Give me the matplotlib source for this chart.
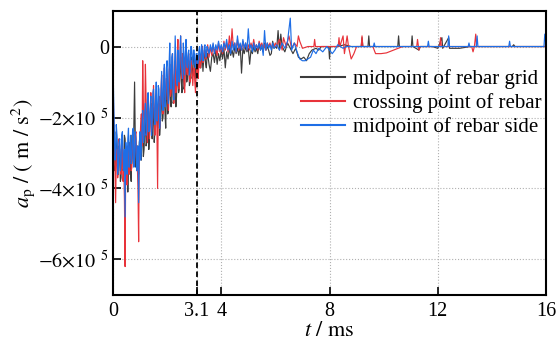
import numpy as np
import matplotlib
matplotlib.use("Agg")
import matplotlib.pyplot as plt

# accelerations in units of 1e5 m/s^2
# 0 - 3.5 ms sampled every 0.025 ms, 3.55 - 6 ms every 0.05 ms
t_fine = np.linspace(0, 3.5, 141)
t_coarse = np.linspace(3.55, 6.0, 50)

grid_mid = [
    -1.2, -2.2, -2.6, -3.5, -3.3, -2.4, -2.7, -3.1, -3.6, -2.8,
    -2.9, -3.8, -3.7, -2.7, -3.0, -3.5, -3.4, -2.5, -2.6, -3.2,
    -3.6, -3.0, -4.1, -3.3, -3.0, -2.7, -3.5, -3.8, -2.5, -2.9,
    -3.3, -2.2, -1.0, -2.6, -3.4, -3.0, -2.8, -3.3, -3.6, -2.7,
    -2.5, -3.0, -3.2, -2.2, -2.4, -3.1, -2.9, -2.3, -2.0, -2.8,
    -2.7, -1.9, -1.7, -2.9, -2.5, -1.9, -1.6, -2.2, -2.6, -1.7,
    -1.9, -2.7, -2.4, -1.4, -1.5, -2.1, -2.3, -1.8, -1.6, -2.5,
    -2.2, -1.5, -1.3, -2.1, -2.0, -1.2, -1.4, -1.9, -2.3, -1.3,
    -1.0, -1.9, -1.8, -1.1, -0.9, -1.5, -1.7, -0.7, -0.8, -1.6,
    -1.5, -0.9, -0.6, -1.7, -1.4, -0.8, -0.5, -1.3, -1.2, -0.6,
    -0.3, -1.0, -1.3, -0.7, -0.6, -1.2, -1.1, -0.5, -0.2, -1.0,
    -0.9, -0.5, -0.4, -1.1, -1.0, -0.6, -0.3, -0.9, -0.8, -0.2,
    -0.2, -0.7, -0.9, -0.4, -0.3, -0.8, -0.7, -0.3, -0.2, -0.6,
    -0.6, -0.2, -0.3, -0.7, -0.4, -0.2, -0.25, -0.5, -0.6, -0.3,
    -0.2,
    -0.5, -0.7, -0.3, -0.2, -0.45, -0.1, -0.5, -0.2, -0.4,
    -0.1, -0.35, -0.05, -0.6, -0.15, -0.35, -0.05, -0.25, -0.1, -0.3,
    0.0, -0.2, -0.05, -0.25, 0.05, -0.75, -0.05, -0.2, 0.0, -0.15,
    -0.05, -0.5, -0.1, -0.2, 0.0, -0.15, -0.05, -0.2, 0.05, -0.1,
    0.0, -0.15, 0.1, -0.1, 0.0, -0.1, -0.25, -0.2, 0.15, -0.05, 0.0,
]

crossing = [
    -0.3, -1.9, -2.8, -3.3, -4.4, -3.1, -2.9, -3.7, -3.5, -2.6,
    -2.8, -3.4, -3.6, -2.7, -3.0, -3.8, -3.4, -4.3, -6.2, -3.0,
    -3.3, -3.9, -2.8, -3.1, -3.6, -2.9, -2.7, -3.5, -3.4, -2.6,
    -2.6, -3.3, -3.2, -2.5, -2.4, -3.0, -3.3, -4.0, -5.5, -2.9,
    -2.7, -2.2, -1.9, -2.8, -0.4, -1.6, -2.5, -2.0, -0.5, -1.5,
    -2.2, -2.7, -1.4, -1.9, -2.6, -2.1, -1.3, -2.4, -2.2, -1.6,
    -1.1, -1.9, -2.5, -1.6, -1.5, -2.3, -4.0, -1.8, -1.4, -2.3,
    -2.0, -1.2, -0.8, -1.7, -1.9, -1.0, -0.6, -1.4, -1.5, -0.9,
    -1.0, -1.5, -1.8, -0.7, -0.5, -1.4, -1.3, -0.6, -0.2, -1.2,
    -1.6, -0.8, -0.4, -1.3, -1.1, -0.3, 0.2, -0.9, -1.2, -0.4,
    0.3, -0.6, -0.9, -0.2, -0.3, -1.0, -1.3, -0.5, -0.1, -0.7,
    -0.8, -0.3, -0.2, -0.9, -1.0, -0.5, -0.4, -0.8, -1.1, -0.7,
    -0.6, -1.0, -1.3, -0.8, -0.4, -0.7, -0.9, -0.5, -0.2, -0.6,
    -0.5, -0.2, 0.0, -0.45, -0.4, -0.1, -0.1, -0.3, -0.35, -0.1,
    0.05,
    -0.3, 0.0, -0.25, 0.05, -0.2, -0.05, -0.25, 0.1, -0.15,
    0.0, -0.2, 0.15, -0.1, 0.1, -0.15, 0.3, -0.1, 0.5, -0.05,
    0.1, -0.15, 0.2, -0.1, 0.05, -0.1, 0.15, -0.05, 0.1, -0.1,
    0.05, -0.1, 0.1, -0.05, 0.2, -0.05, 0.05, -0.1, 0.15, 0.0,
    0.1, -0.05, 0.05, -0.1, 0.1, 0.0, 0.1, -0.05, 0.05, 0.0, 0.1,
]

side_mid = [
    -0.3, -1.4, -2.3, -3.2, -3.0, -2.2, -2.5, -3.6, -3.4, -2.7,
    -2.6, -3.5, -3.3, -2.5, -2.4, -3.1, -3.5, -2.9, -4.8, -2.7,
    -3.0, -3.6, -2.6, -2.3, -3.4, -3.0, -2.5, -3.3, -3.2, -2.4,
    -2.3, -3.4, -3.1, -2.4, -2.6, -3.5, -3.2, -2.8, -4.4, -2.8,
    -2.4, -3.2, -2.9, -2.2, -1.8, -2.7, -2.6, -1.9, -1.6, -2.5,
    -2.4, -1.5, -1.3, -2.4, -2.3, -1.7, -1.4, -2.5, -2.1, -1.3,
    -1.2, -2.0, -2.2, -1.5, -1.0, -2.1, -1.9, -1.1, -1.2, -2.3,
    -2.0, -1.3, -0.7, -1.6, -1.8, -0.9, -0.5, -1.7, -1.4, -0.6,
    -0.4, -1.3, -1.6, -0.5, 0.1, -0.8, -1.2, -0.3, -0.2, -1.3,
    -1.5, -0.6, 0.3, -0.5, -0.9, -1.1, -0.1, -0.6, -1.0, -0.2,
    0.3, -0.4, -0.7, -0.9, 0.1, -0.3, -0.8, -0.2, 0.2, -0.5,
    -0.6, -0.2, -0.1, -0.8, -0.7, 0.0, 0.0, -0.4, -0.5, -0.1,
    -0.1, -0.5, -0.6, -0.2, -0.2, -0.5, -0.45, -0.1, 0.0, -0.4,
    -0.35, 0.05, -0.1, -0.4, -0.3, 0.0, 0.05, -0.3, -0.25, 0.0,
    -0.05,
    -0.2, 0.05, -0.15, 0.1, -0.2, 0.05, -0.1, 0.15, -0.1,
    0.05, -0.15, 0.1, -0.05, 0.2, -0.1, 0.05, -0.2, 0.15, -0.1,
    0.1, -0.15, 0.3, -0.05, 0.1, -0.1, 0.2, -0.05, 0.1, -0.1,
    0.5, -0.05, 0.05, -0.15, 0.1, -0.1, 0.05, -0.05, 0.1, -0.1,
    0.05, -0.25, 0.45, -0.1, 0.1, -0.05, 0.05, -0.1, 0.1, -0.05, 0.0,
]

# tail part (6 - 16 ms): mostly flat with isolated spikes
grid_mid_tail_t = [6.05, 6.10, 6.15, 6.20, 6.25, 6.35, 6.45, 6.55, 6.65, 6.75,
                   6.85, 6.95, 7.05, 7.15, 7.25, 7.35, 7.5, 7.6, 7.7, 7.97,
                   8.0, 8.03, 8.3, 8.55, 8.8, 9.17, 9.2, 9.23, 9.42, 9.45,
                   9.48, 10.52, 10.55, 10.58, 11.02, 11.05, 11.08, 11.3, 11.35, 11.8,
                   12.0, 12.15, 12.18, 12.4, 12.43, 12.8, 13.2, 14.75, 14.8, 14.85,
                   16.0]
grid_mid_tail = [-0.05, 0.45, -0.1, 0.35, 0.0, -0.15, 0.1, -0.05, -0.2, -0.05,
                 -0.3, -0.35, -0.3, -0.4, -0.2, -0.1, -0.05, -0.1, 0.0, 0.0,
                 -0.35, 0.0, 0.0, 0.05, 0.0, 0.0, 0.25, 0.0, 0.0, 0.3,
                 0.0, 0.0, 0.3, 0.0, 0.0, 0.3, 0.0, -0.1, 0.0, 0.0,
                 -0.05, 0.25, -0.05, 0.25, -0.05, -0.05, 0.0, 0.0, 0.05, 0.0,
                 0.0]

crossing_tail_t = [6.05, 6.15, 6.25, 6.3, 6.4, 6.5, 6.6, 6.7, 6.8, 6.85,
                   6.9, 7.0, 7.2, 7.42, 7.45, 7.48, 8.32, 8.35, 8.38, 8.5,
                   8.55, 8.65, 8.7, 8.8, 8.9, 9.0, 9.17, 9.2, 9.23, 9.6,
                   9.7, 9.9, 10.1, 10.3, 10.5, 10.7, 11.22, 11.25, 11.3, 11.35,
                   12.07, 12.1, 12.13, 13.25, 13.3, 13.35, 13.4, 13.43, 16.0]
crossing_tail = [0.0, 0.2, -0.1, 0.25, 0.0, 0.3, -0.05, 0.1, 0.0, 0.3,
                 0.15, -0.05, 0.0, 0.0, 0.2, 0.0, 0.0, 0.25, 0.0, 0.3,
                 -0.2, 0.3, 0.0, -0.35, -0.2, 0.0, 0.0, 0.3, 0.0, 0.0,
                 -0.2, -0.2, -0.18, -0.12, -0.06, 0.0, 0.0, 0.2, -0.1, 0.0,
                 0.0, 0.25, 0.0, 0.0, -0.15, 0.0, 0.35, 0.0, 0.0]

side_mid_tail_t = [6.05, 6.15, 6.25, 6.35, 6.45, 6.55, 6.6, 6.7, 6.8, 6.9,
                   7.0, 7.1, 7.2, 7.3, 7.4, 7.5, 7.6, 7.75, 7.9, 8.1,
                   8.2, 8.3, 8.5, 8.6, 9.62, 9.65, 9.68, 11.62, 11.65, 11.68,
                   12.37, 12.4, 12.43, 13.12, 13.15, 13.18, 13.42, 13.45, 13.48, 14.62,
                   14.65, 14.68, 15.92, 15.95, 16.0]
side_mid_tail = [0.05, -0.1, 0.1, -0.05, 0.15, 0.8, -0.1, 0.1, -0.15, -0.35,
                 -0.4, -0.4, -0.35, -0.3, -0.1, -0.2, -0.05, -0.15, 0.0, -0.2,
                 -0.1, 0.05, -0.05, 0.0, 0.0, 0.1, 0.0, 0.0, 0.15, 0.0,
                 0.0, 0.3, 0.0, 0.0, 0.1, 0.0, 0.0, 0.3, 0.0, 0.0,
                 0.15, 0.0, 0.0, 0.35, 0.0]

labels = ["midpoint of rebar grid", "crossing point of rebar", "midpoint of rebar side"]
colors = ["#3c3c3c", "#e8333a", "#1e6ee6"]

x_ticks = [0, 3.1, 4, 8, 12, 16]
x_tick_labels = ["0", "3.1", "4", "8", "12", "16"]
y_ticks = [0, -2, -4, -6]
y_tick_labels = ["0", r"$-2{\times}10^{\;\;5}$", r"$-4{\times}10^{\;\;5}$", r"$-6{\times}10^{\;\;5}$"]
t_mark = 3.1

plt.rcParams["font.family"] = "serif"
plt.rcParams["font.serif"] = ["Liberation Serif", "DejaVu Serif"]
plt.rcParams["mathtext.fontset"] = "stix"

fig = plt.figure(figsize=(5.59, 3.45), dpi=100)
ax = fig.add_axes([0.202, 0.145, 0.775, 0.823])

t_dense = np.concatenate([t_fine, t_coarse])
series = [
    (grid_mid, grid_mid_tail_t, grid_mid_tail),
    (crossing, crossing_tail_t, crossing_tail),
    (side_mid, side_mid_tail_t, side_mid_tail),
]
for (dense, tt, tv), lab, col in zip(series, labels, colors):
    t = np.concatenate([t_dense, tt])
    v = np.concatenate([dense, tv])
    ax.plot(t, v, color=col, lw=0.85, label=lab)

ax.axvline(t_mark, color="black", ls=(0, (3, 2)), lw=1.3, zorder=5)

ax.set_xlim(0, 16)
ax.set_ylim(-7, 1)
ax.set_xticks(x_ticks)
ax.set_xticklabels(x_tick_labels)
ax.set_yticks(y_ticks)
ax.set_yticklabels(y_tick_labels)
ax.tick_params(direction="in", length=6, width=1.2, labelsize=14.5)
ax.tick_params(axis="x", pad=5)
ax.tick_params(axis="y", pad=3)
ax.grid(True, ls=":", color="#b0b0b0", lw=0.8)
for sp in ax.spines.values():
    sp.set_linewidth(1.5)

ax.set_xlabel(r"$t\ /\ \mathrm{ms}$", fontsize=16)
ax.set_ylabel(r"$a_{\mathrm{p}}\ /\ (\ \mathrm{m}\ /\ \mathrm{s}^{2})$", fontsize=16)
ax.xaxis.set_label_coords(0.5, -0.095)
ax.yaxis.set_label_coords(-0.175, 0.5)

leg = ax.legend(loc="upper right", bbox_to_anchor=(1.0, 0.81), frameon=False,
                fontsize=15, handlelength=2.1, labelspacing=0.2, borderaxespad=0.0,
                borderpad=0.2, handletextpad=0.4)
for line in leg.get_lines():
    line.set_linewidth(1.5)

fig.savefig("out.png", dpi=100)
